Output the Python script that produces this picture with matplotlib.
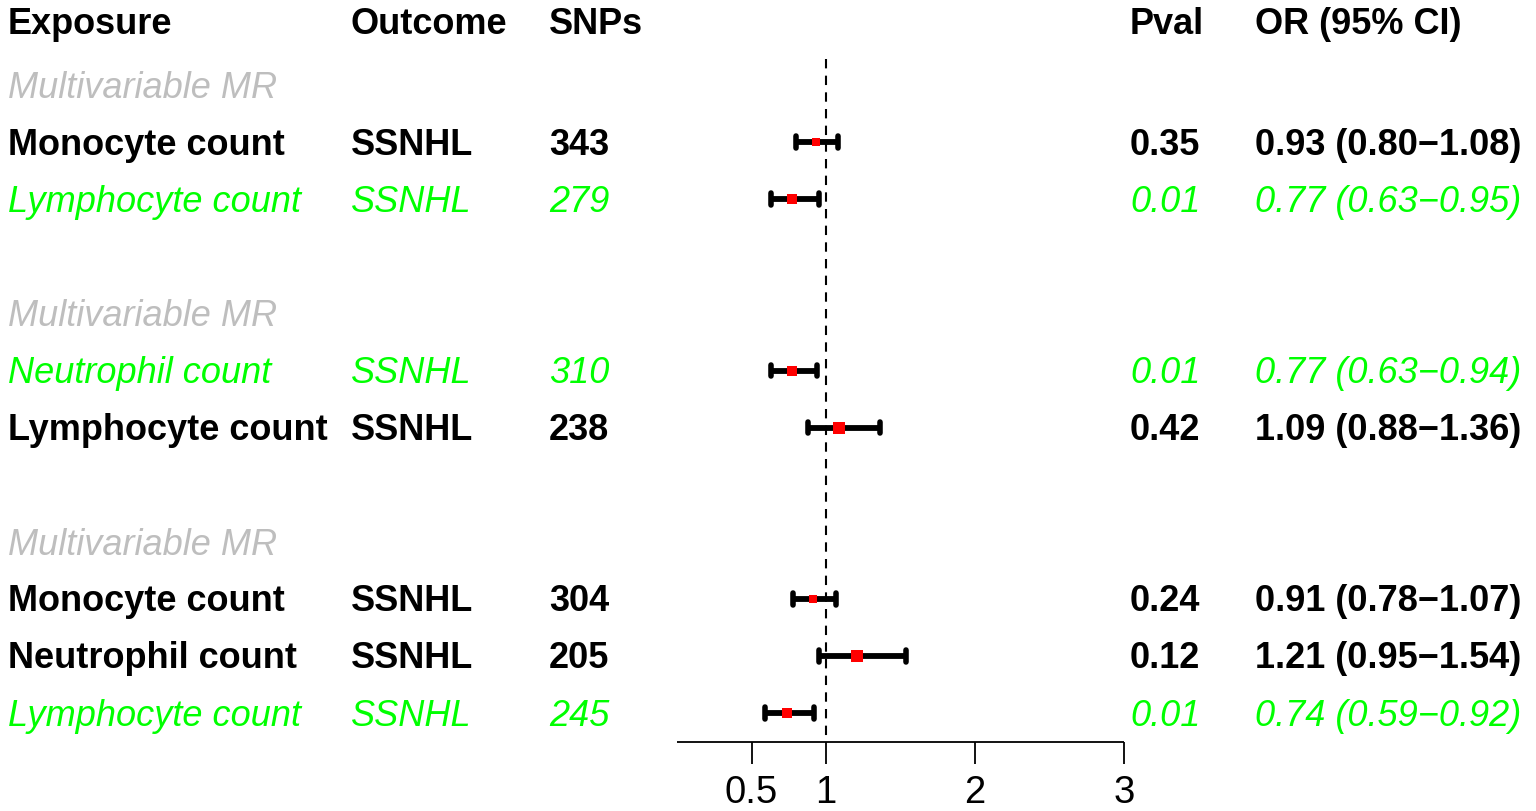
import matplotlib
matplotlib.use("Agg")
import matplotlib.pyplot as plt
import matplotlib.transforms as mtransforms

plt.rcParams["font.family"] = ["Liberation Sans", "DejaVu Sans"]

# data
exposure = ["Monocyte count", "Lymphocyte count", "Neutrophil count", "Lymphocyte count",
            "Monocyte count", "Neutrophil count", "Lymphocyte count"]
outcome = ["SSNHL"] * 7
snps = [343, 279, 310, 238, 304, 205, 245]
pval = [0.35, 0.01, 0.01, 0.42, 0.24, 0.12, 0.01]
odds = [0.93, 0.77, 0.77, 1.09, 0.91, 1.21, 0.74]
ci_low = [0.80, 0.63, 0.63, 0.88, 0.78, 0.95, 0.59]
ci_high = [1.08, 0.95, 0.94, 1.36, 1.07, 1.54, 0.92]
group_label = "Multivariable MR"
xticks = [0.5, 1, 2, 3]

# layout (row index, top to bottom)
data_rows = [2, 3, 6, 7, 10, 11, 12]
group_rows = [1, 5, 9]
box_px = [8.3, 10.7, 10, 11.7, 8.7, 12, 10.7]

W, H = 1536, 812
fig = plt.figure(figsize=(W / 100, H / 100), dpi=100)
ax = fig.add_axes([0, 0, 1, 1])
ax.axis("off")

# pixel mapping: x=0 at 677px, 149px per unit; row r at 28.9 + 57.1*r px
x0, xs = 677, 149
y0, ys = 28.9, 57.1
ax.set_xlim(-x0 / xs, (W - x0) / xs)
ax.set_ylim((H - y0) / ys, -y0 / ys)


def row_of(px):
    return (px - y0) / ys


trans = mtransforms.blended_transform_factory(fig.transFigure, ax.transData)
cols = [8, 351, 549, 1130, 1255]
fs = 26
green = "#00ff00"
grey = "#bebebe"

headers = ["Exposure", "Outcome", "SNPs", "Pval", "OR (95% CI)"]
for cx, h in zip(cols, headers):
    ax.text(cx / W, row_of(34), h, transform=trans, fontsize=fs, fontweight="bold",
            va="baseline", ha="left")

for r in group_rows:
    ax.text(cols[0] / W, r + 0.21, group_label, transform=trans, fontsize=fs,
            style="italic", color=grey, va="baseline", ha="left")

for i, r in enumerate(data_rows):
    sig = pval[i] < 0.05
    kw = dict(transform=trans, fontsize=fs, va="baseline", ha="left")
    if sig:
        kw.update(style="italic", color=green)
    else:
        kw.update(fontweight="bold", color="black")
    cells = [exposure[i], outcome[i], str(snps[i]), f"{pval[i]:.2f}",
             f"{odds[i]:.2f} ({ci_low[i]:.2f}\u2212{ci_high[i]:.2f})"]
    for cx, t in zip(cols, cells):
        ax.text(cx / W, r + 0.2, t, **kw)

# reference line
ax.plot([1, 1], [row_of(60), row_of(743)], color="black", lw=1.5,
        dashes=(4.5, 3.5), zorder=1)

# CIs and boxes
for i, r in enumerate(data_rows):
    ax.plot([ci_low[i], ci_high[i]], [r, r], color="black", lw=4.2,
            solid_capstyle="butt", zorder=2)
    for xv in (ci_low[i], ci_high[i]):
        ax.plot([xv, xv], [r - 0.1, r + 0.1], color="black", lw=4,
                solid_capstyle="round", zorder=2)
    ax.plot(odds[i], r, marker="s", color="red", markersize=box_px[i] / 1.389,
            markeredgewidth=0, linestyle="none", zorder=3)

# x axis
ya = row_of(743)
ax.plot([0, 3], [ya, ya], color="black", lw=1.3, solid_capstyle="butt")
for t in xticks:
    ax.plot([t, t], [ya, row_of(765)], color="black", lw=1.3, solid_capstyle="butt")
    ax.text(t, row_of(803), f"{t:g}", fontsize=27.5, ha="center", va="baseline")

fig.savefig("out.png", dpi=100)
